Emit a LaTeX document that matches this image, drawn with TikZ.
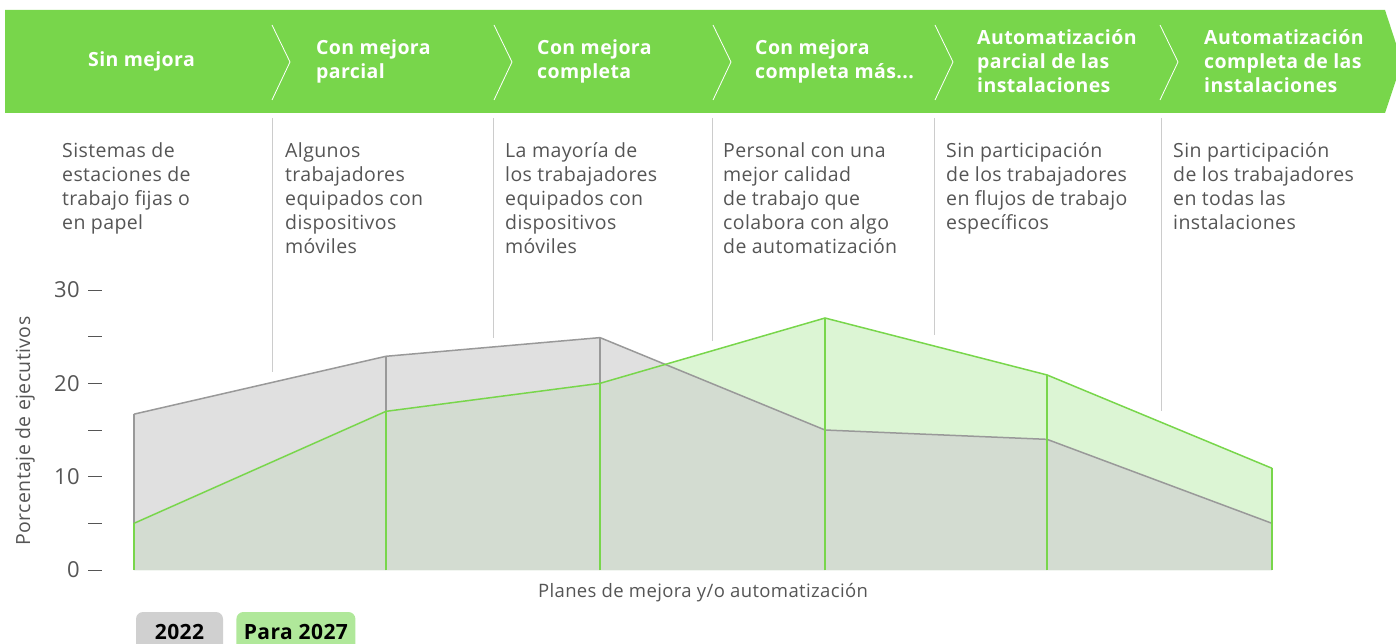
\documentclass[tikz,border=0pt]{standalone}
\usepackage{fontspec}
\setmainfont{Open Sans}[LetterSpace=2]
\usetikzlibrary{positioning}
\definecolor{bannergreen}{HTML}{78D64B}
\definecolor{textgray}{HTML}{555555}
\definecolor{sepgray}{HTML}{CCCCCC}
\definecolor{fillold}{HTML}{E0E0E0}
\definecolor{fillnew}{HTML}{DCF5D4}
\definecolor{fillboth}{HTML}{D3DCD1}
\definecolor{lineold}{HTML}{999999}
\definecolor{linenew}{HTML}{78D64B}
\definecolor{boxold}{HTML}{D0D0D0}
\definecolor{boxnew}{HTML}{B0E89A}

\begin{document}
\begin{tikzpicture}[x=1pt, y=-1pt,
                          stagenode/.style={anchor=west, inner sep=0pt, text=white, align=left, font=\bfseries\fontsize{19.5}{24}\selectfont},
                          descnode/.style={anchor=north west, inner sep=0pt, text=textgray, align=left, font=\fontsize{19.5}{24}\selectfont},
                          ticknode/.style={anchor=east, inner sep=0pt, text=textgray, font=\fontsize{22}{24}\selectfont},
                          legendnode/.style={rounded corners=7pt, minimum height=40pt, inner xsep=0pt, font=\bfseries\fontsize{21}{24}\selectfont},
                          chevron/.style={draw=white, line width=0.8pt},
                          sepline/.style={draw=sepgray, line width=1pt},
                          lineold/.style={draw=lineold, line width=1.5pt},
                          linenew/.style={draw=linenew, line width=1.5pt},
                      ]
                      \useasboundingbox (0,0) rectangle (1396,644);

                      %Banner
                      \fill[bannergreen] (5,10) -- (1385,10) -- (1402,62) -- (1385,113) -- (5,113) -- cycle;
                      \foreach \x in {272,494,713,935,1160}
                          \draw[chevron] (\x,25) -- (\x+18,62) -- (\x,100);

                      %Stages
                      \node[stagenode] (stage1) at (88,61)   {Sin mejora};
                      \node[stagenode] (stage2) at (316,61)  {Con mejora\\parcial};
                      \node[stagenode] (stage3) at (537,61)  {Con mejora\\completa};
                      \node[stagenode] (stage4) at (755,61)  {Con mejora\\completa más...};
                      \node[stagenode] (stage5) at (977,61)  {Automatización\\parcial de las\\instalaciones};
                      \node[stagenode] (stage6) at (1204,61) {Automatización\\completa de las\\instalaciones};

                      %Descriptions
                      \node[descnode] (desc1) at (62,142)   {Sistemas de\\estaciones de\\trabajo fijas o\\en papel};
                      \node[descnode] (desc2) at (285,142)  {Algunos\\trabajadores\\equipados con\\dispositivos\\móviles};
                      \node[descnode] (desc3) at (505,142)  {La mayoría de\\los trabajadores\\equipados con\\dispositivos\\móviles};
                      \node[descnode] (desc4) at (723,142)  {Personal con una\\mejor calidad\\de trabajo que\\colabora con algo\\de automatización};
                      \node[descnode] (desc5) at (946,142)  {Sin participación\\de los trabajadores\\en flujos de trabajo\\específicos};
                      \node[descnode] (desc6) at (1173,142) {Sin participación\\de los trabajadores\\en todas las\\instalaciones};

                      %Separators
                      \foreach \x/\e in {272/372, 493/338, 712/341, 934/335, 1161/411}
                          \draw[sepline] (\x,118) -- (\x,\e);

                      %Axis
                      \foreach \v in {0,5,...,30}
                          \draw[textgray, line width=1pt] (88,{570-9.333*\v}) -- (102,{570-9.333*\v});
                      \foreach \v in {0,10,20,30}
                          \node[ticknode] (tick\v) at (80,{570-9.333*\v}) {\v};
                      \node[rotate=90, text=textgray, font=\fontsize{19.5}{20}\selectfont] (ytitle) at (25,431) {Porcentaje de ejecutivos};
                      \node[text=textgray, font=\fontsize{18.5}{20}\selectfont] (xtitle) at (703,593) {Planes de mejora y/o automatización};

                      %Data
                      \foreach \i/\x/\o/\n in {1/134/16.7/5, 2/386/22.9/17, 3/600/24.9/20, 4/825/15/27, 5/1047/14/20.9, 6/1272/5/10.9} {
                          \coordinate (b\i) at (\x,570);
                          \coordinate (o\i) at (\x,{570-9.333*\o});
                          \coordinate (n\i) at (\x,{570-9.333*\n});
                      }
                      \fill[fillold] (b1) -- (o1) -- (o2) -- (o3) -- (o4) -- (o5) -- (o6) -- (b6) -- cycle;
                      \fill[fillnew] (b1) -- (n1) -- (n2) -- (n3) -- (n4) -- (n5) -- (n6) -- (b6) -- cycle;
                      \begin{scope}
                          \clip (b1) -- (o1) -- (o2) -- (o3) -- (o4) -- (o5) -- (o6) -- (b6) -- cycle;
                          \fill[fillboth] (b1) -- (n1) -- (n2) -- (n3) -- (n4) -- (n5) -- (n6) -- (b6) -- cycle;
                      \end{scope}

                      %Lines
                      \draw[lineold] (o1) -- (o2) -- (o3) -- (o4) -- (o5) -- (o6);
                      \foreach \i in {1,...,6}
                          \draw[lineold, line width=2.5pt] (b\i) -- (o\i);
                      \draw[linenew] (n1) -- (n2) -- (n3) -- (n4) -- (n5) -- (n6);
                      \foreach \i in {1,...,6}
                          \draw[linenew, line width=2.5pt] (b\i) -- (n\i);

                      %Legend
                      \node[legendnode, fill=boxold, minimum width=87pt] (old) at (179.5,632) {2022};
                      \node[legendnode, fill=boxnew, minimum width=119pt] (new) [right=13pt of old] {Para 2027};
                  \end{tikzpicture}
\end{document}
